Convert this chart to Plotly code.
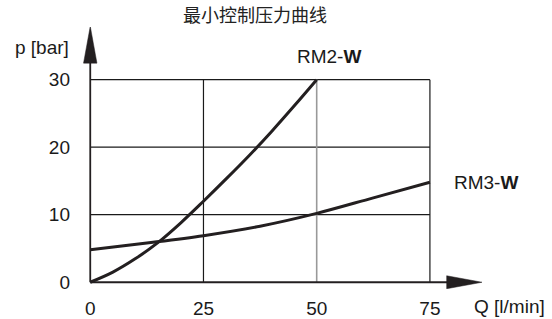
import plotly.graph_objects as go

# Data
rm2_q = [0, 5, 10, 15, 20, 25, 30, 35, 40, 45, 50]
rm2_p = [0, 1.5, 3.5, 5.9, 8.8, 12.0, 15.3, 18.7, 22.3, 26.1, 30]

rm3_q = [0, 12.5, 25, 37.5, 50, 62.5, 75]
rm3_p = [4.8, 5.8, 6.9, 8.3, 10.2, 12.5, 14.8]

x_ticks = [0, 25, 50, 75]
y_ticks = [0, 10, 20, 30]
x_tick_text = ["0", "25", "50", "75"]
y_tick_text = ["0", "10", "20", "30"]

title_text = "最小控制压力曲线"
x_label = "Q [l/min]"
y_label = "p [bar]"
rm2_label = "RM2-<b>W</b>"
rm3_label = "RM3-<b>W</b>"

FONT = "Liberation Sans, Arial, Helvetica, sans-serif"
INK = "#231f20"
TXT = "#1a1a1a"

fig = go.Figure()
fig.add_trace(go.Scatter(x=rm2_q, y=rm2_p, mode="lines",
                         line=dict(color=INK, width=3, shape="spline"),
                         showlegend=False, hoverinfo="skip"))
fig.add_trace(go.Scatter(x=rm3_q, y=rm3_p, mode="lines",
                         line=dict(color=INK, width=3, shape="spline"),
                         showlegend=False, hoverinfo="skip"))

shapes = []
xmax, ymax = x_ticks[-1], y_ticks[-1]
# horizontal grid lines
for yv in y_ticks[1:]:
    shapes.append(dict(type="line", xref="x", yref="y", x0=0, x1=xmax, y0=yv, y1=yv,
                       line=dict(color="#1a1a1a", width=1.2), layer="below"))
# vertical grid lines
for xv in x_ticks[1:]:
    col = "#999999" if xv == 50 else "#1a1a1a"
    w = 1.6 if xv == 50 else 1.2
    shapes.append(dict(type="line", xref="x", yref="y", x0=xv, x1=xv, y0=0, y1=ymax,
                       line=dict(color=col, width=w), layer="below"))
# axis lines
shapes.append(dict(type="line", xref="x", yref="y", x0=0, x1=79, y0=0, y1=0,
                   line=dict(color=INK, width=1.8)))
shapes.append(dict(type="line", xref="x", yref="y", x0=0, x1=0, y0=0, y1=33,
                   line=dict(color=INK, width=1.8)))
# arrowheads
shapes.append(dict(type="path", xref="x", yref="y",
                   path="M -1.48,32.45 L 0,37.9 L 1.48,32.45 Z",
                   fillcolor=INK, line=dict(color=INK, width=0.5)))
shapes.append(dict(type="path", xref="x", yref="y",
                   path="M 78.7,-0.96 L 86.5,0 L 78.7,0.96 Z",
                   fillcolor=INK, line=dict(color=INK, width=0.5)))

annotations = [
    dict(text=y_label, xref="paper", yref="paper", x=-0.0294, y=0.9227,
         xanchor="right", yanchor="middle", showarrow=False,
         font=dict(family=FONT, size=19, color=TXT)),
    dict(text=x_label, xref="paper", yref="paper", x=0.974, y=-0.0674,
         xanchor="left", yanchor="middle", showarrow=False,
         font=dict(family=FONT, size=19, color=TXT)),
    dict(text=rm2_label, x=52.7, y=33.4, xref="x", yref="y", xanchor="center",
         yanchor="middle", showarrow=False,
         font=dict(family=FONT, size=19, color=TXT)),
    dict(text=rm3_label, xref="paper", yref="paper", x=1.010, y=0.4067,
         xanchor="center", yanchor="middle", showarrow=False,
         font=dict(family=FONT, size=19, color=TXT)),
]

fig.update_layout(
    width=552, height=319,
    margin=dict(l=82.75, r=70, t=26.7, b=29.7, autoexpand=False),
    paper_bgcolor="white", plot_bgcolor="white",
    title=dict(text=title_text, x=255 / 552, xref="container", xanchor="center",
               y=1 - 16 / 319, yref="container", yanchor="middle",
               font=dict(family="Noto Sans CJK SC", size=18, color="#222222")),
    shapes=shapes, annotations=annotations,
    xaxis=dict(range=[-1.6, 86.5], tickvals=x_ticks, ticktext=x_tick_text,
               showgrid=False, zeroline=False, showline=False, ticks="",
               ticklabelstandoff=6, automargin=False,
               tickfont=dict(family=FONT, size=19, color=TXT), fixedrange=True),
    yaxis=dict(range=[-1, 37.8], tickvals=y_ticks, ticktext=y_tick_text,
               showgrid=False, zeroline=False, showline=False, ticks="",
               ticklabelstandoff=12, automargin=False,
               tickfont=dict(family=FONT, size=19, color=TXT), fixedrange=True),
)

fig.write_html("out.html", config={"displayModeBar": False},
               post_script="document.body.style.margin='0px';")
